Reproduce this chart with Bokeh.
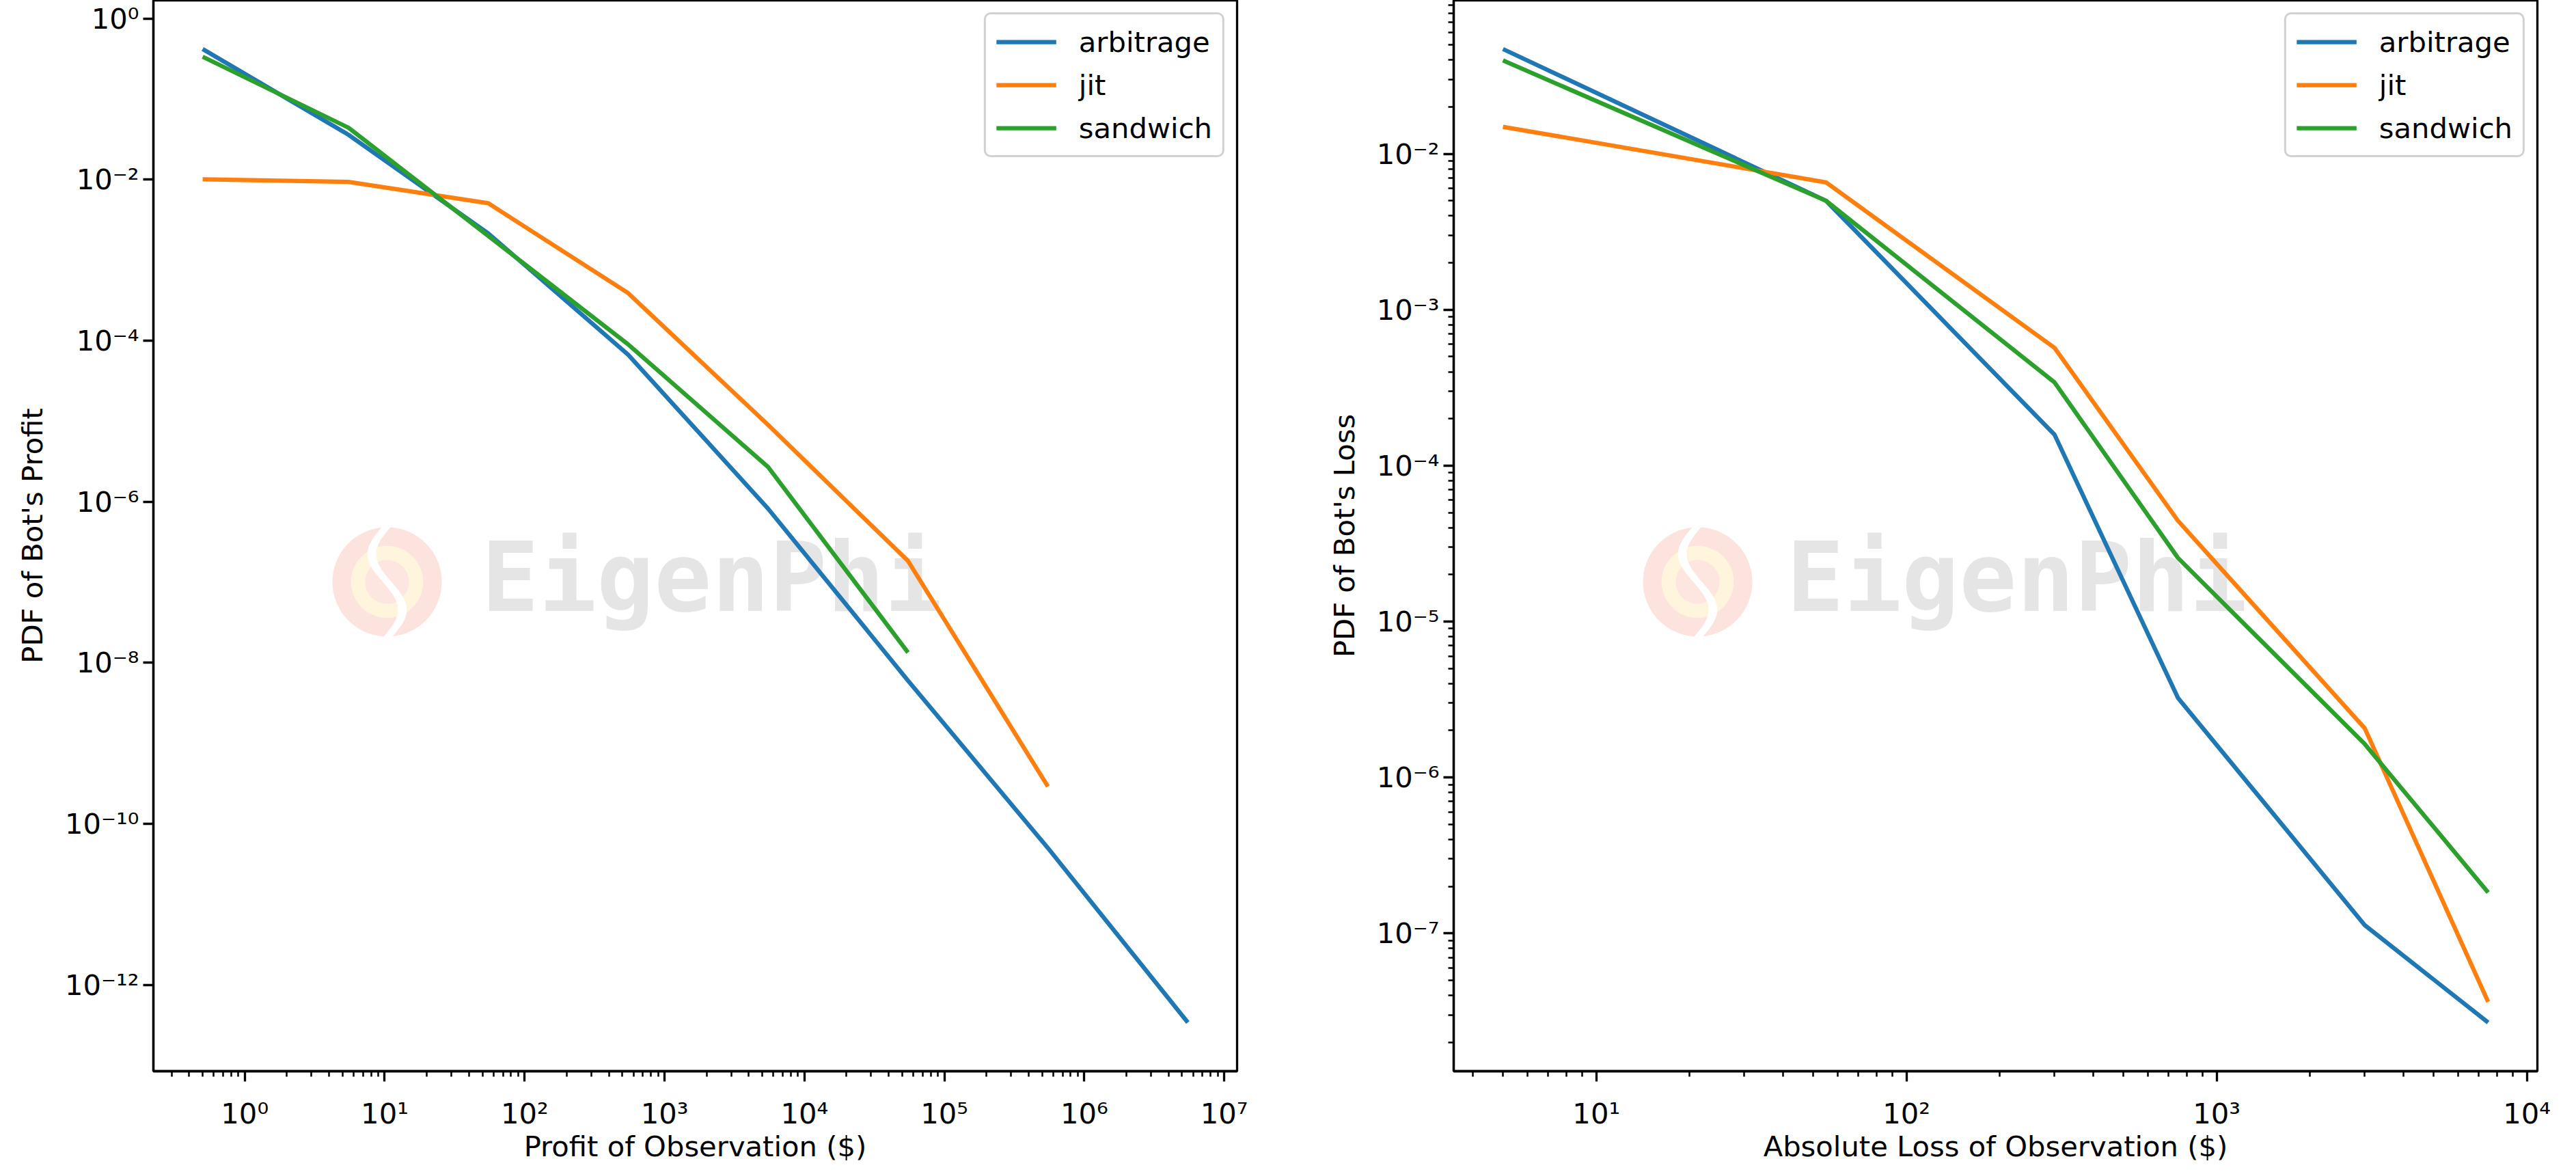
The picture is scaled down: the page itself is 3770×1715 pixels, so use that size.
import math
from bokeh.plotting import figure
from bokeh.models import Range1d, FixedTicker, Legend, LegendItem, Label, PolyAnnotation
from bokeh.layouts import row
from bokeh.embed import file_html
from bokeh.resources import INLINE

# ---------------- data ----------------
series_names = ["arbitrage", "jit", "sandwich"]
series_colors = ["#1f77b4", "#ff7f0e", "#2ca02c"]

# profit distribution (bin midpoints, $)
profit_x = [0.5, 5.5, 55, 550, 5500, 55000, 550000, 5500000]
profit_arbitrage = [0.42, 0.0362, 0.00215, 6.7e-5, 8.2e-7, 6.0e-9, 5.0e-11, 3.4e-13]
profit_jit = [0.0101, 0.0094, 0.0051, 3.9e-4, 9.0e-6, 1.84e-7, 2.9e-10]
profit_sandwich = [0.337, 0.0443, 0.0020, 9.0e-5, 2.7e-6, 1.34e-8]

# absolute loss distribution (bin midpoints, $)
loss_x = [5, 55, 300, 750, 3000, 7500]
loss_arbitrage = [0.047, 0.0050, 1.58e-4, 3.24e-6, 1.13e-7, 2.68e-8]
loss_jit = [0.0149, 0.00656, 5.7e-4, 4.43e-5, 2.07e-6, 3.64e-8]
loss_sandwich = [0.0397, 0.0050, 3.42e-4, 2.56e-5, 1.64e-6, 1.83e-7]

# tick positions / labels
profit_x_ticks = [1, 10, 100, 1e3, 1e4, 1e5, 1e6, 1e7]
profit_x_labels = ["10⁰", "10¹", "10²", "10³", "10⁴", "10⁵", "10⁶", "10⁷"]
profit_y_ticks = [1e-12, 1e-10, 1e-8, 1e-6, 1e-4, 1e-2, 1]
profit_y_labels = ["10⁻¹²", "10⁻¹⁰", "10⁻⁸", "10⁻⁶", "10⁻⁴", "10⁻²", "10⁰"]
loss_x_ticks = [10, 100, 1e3, 1e4]
loss_x_labels = ["10¹", "10²", "10³", "10⁴"]
loss_y_ticks = [1e-7, 1e-6, 1e-5, 1e-4, 1e-3, 1e-2]
loss_y_labels = ["10⁻⁷", "10⁻⁶", "10⁻⁵", "10⁻⁴", "10⁻³", "10⁻²"]

profit_xlabel = "Profit of Observation ($)"
profit_ylabel = "PDF of Bot's Profit"
loss_xlabel = "Absolute Loss of Observation ($)"
loss_ylabel = "PDF of Bot's Loss"
watermark_text = "EigenPhi"

FONT = "DejaVu Sans"
FS = "41.7px"


def padded_range(seqs):
    vals = [math.log10(v) for s in seqs for v in s]
    lo, hi = min(vals), max(vals)
    pad = 0.05 * (hi - lo)
    return Range1d(10 ** (lo - pad), 10 ** (hi + pad))


def minor_list(rng, kmin, kmax):
    out = []
    for k in range(kmin, kmax):
        for m in range(2, 10):
            v = m * 10.0 ** k
            if rng.start <= v <= rng.end:
                out.append(v)
    return out


def add_watermark(p, logo_cx, logo_cy, text_x, text_y):
    R = 80.0
    rings = [(1.0, "#fde3de"), (0.66, "#fff4dc"), (0.40, "#fde6e0")]
    for frac, col in rings:
        r = R * frac
        xs = [logo_cx + r * math.cos(2 * math.pi * i / 72) for i in range(72)]
        ys = [logo_cy + r * math.sin(2 * math.pi * i / 72) for i in range(72)]
        p.add_layout(PolyAnnotation(xs=xs, ys=ys, xs_units="screen", ys_units="screen",
                                    fill_color=col, fill_alpha=1.0, line_color=None,
                                    level="underlay"))
    # white S-shaped band through the logo
    n = 40
    w = 0.16 * R
    left, right = [], []
    for i in range(n + 1):
        t = -1 + 2 * i / n
        cx = logo_cx - 0.28 * R * math.sin(math.pi * t)
        cy = logo_cy + R * 1.02 * t
        left.append((cx - w / 2, cy))
        right.append((cx + w / 2, cy))
    pts = left + right[::-1]
    p.add_layout(PolyAnnotation(xs=[a for a, _ in pts], ys=[b for _, b in pts],
                                xs_units="screen", ys_units="screen",
                                fill_color="white", fill_alpha=1.0, line_color=None,
                                level="underlay"))
    p.add_layout(Label(x=text_x, y=text_y, x_units="screen", y_units="screen",
                       text=watermark_text, text_font="DejaVu Sans Mono",
                       text_font_style="bold", text_font_size="140px",
                       text_color="#e5e5e5", text_baseline="alphabetic",
                       text_align="left", level="underlay"))


def make_panel(xv, ys, xticks, xlabels, yticks, ylabels, xlabel, ylabel,
               border_left, border_right, y_minor, wm):
    xr = padded_range([xv])
    yr = padded_range(ys)
    p = figure(x_axis_type="log", y_axis_type="log", x_range=xr, y_range=yr,
               frame_width=1586, frame_height=1567,
               min_border_left=border_left, min_border_right=border_right,
               min_border_top=0, min_border_bottom=131,
               output_backend="svg", toolbar_location=None, title=None,
               background_fill_color="white", border_fill_color="white")
    p.xgrid.visible = False
    p.ygrid.visible = False
    p.outline_line_color = "black"
    p.outline_line_width = 3.3
    p.outline_line_alpha = 1.0

    add_watermark(p, *wm)

    renderers = []
    for yvals, col in zip(ys, series_colors):
        r = p.line(xv[:len(yvals)], yvals, line_color=col, line_width=6.25)
        renderers.append(r)

    xt = [t for t in xticks if xr.start <= t <= xr.end]
    p.xaxis.ticker = FixedTicker(ticks=xt, minor_ticks=minor_list(xr, -2, 9))
    p.xaxis.major_label_overrides = {t: l for t, l in zip(xticks, xlabels) if t in xt}
    yt = [t for t in yticks if yr.start <= t <= yr.end]
    p.yaxis.ticker = FixedTicker(ticks=yt, minor_ticks=minor_list(yr, -14, 2) if y_minor else [])
    p.yaxis.major_label_overrides = {t: l for t, l in zip(yticks, ylabels) if t in yt}

    p.xaxis.axis_label = xlabel
    p.yaxis.axis_label = ylabel
    for ax in (p.xaxis[0], p.yaxis[0]):
        ax.axis_line_width = 3.3
        ax.axis_line_color = "black"
        ax.major_tick_line_width = 3.3
        ax.minor_tick_line_width = 2.5
        ax.major_tick_line_color = "black"
        ax.minor_tick_line_color = "black"
        ax.major_tick_in = 0
        ax.major_tick_out = 15
        ax.minor_tick_in = 0
        ax.minor_tick_out = 8
        ax.major_label_text_font = FONT
        ax.major_label_text_font_size = FS
        ax.major_label_text_color = "black"
        ax.axis_label_text_font = FONT
        ax.axis_label_text_font_size = FS
        ax.axis_label_text_font_style = "normal"
        ax.axis_label_text_color = "black"
    p.xaxis.major_label_standoff = 22
    p.xaxis.axis_label_standoff = -4
    p.yaxis.major_label_standoff = 6
    p.yaxis.axis_label_standoff = 20
    if not y_minor:
        p.yaxis.minor_tick_line_color = None

    legend = Legend(items=[LegendItem(label=n, renderers=[r]) for n, r in zip(series_names, renderers)],
                    location="top_right")
    legend.label_text_font = FONT
    legend.label_text_font_size = FS
    legend.label_text_color = "black"
    legend.glyph_width = 88
    legend.glyph_height = 50
    legend.label_height = 50
    legend.label_standoff = 33
    legend.spacing = 13
    legend.padding = 15
    legend.margin = 18
    legend.border_line_color = "#cccccc"
    legend.border_line_width = 3.3
    legend.border_line_alpha = 0.9
    legend.background_fill_color = "white"
    legend.background_fill_alpha = 0.8
    if "border_radius" in Legend.properties():
        legend.border_radius = 10
    p.add_layout(legend)
    return p


p1 = make_panel(profit_x, [profit_arbitrage, profit_jit, profit_sandwich],
                profit_x_ticks, profit_x_labels, profit_y_ticks, profit_y_labels,
                profit_xlabel, profit_ylabel, 224, 67, False,
                (342, 716, 480, 722))
p2 = make_panel(loss_x, [loss_arbitrage, loss_jit, loss_sandwich],
                loss_x_ticks, loss_x_labels, loss_y_ticks, loss_y_labels,
                loss_xlabel, loss_ylabel, 250, 37, True,
                (357, 716, 487, 722))

layout = row(p1, p2)
open("out.html", "w").write(file_html(layout, INLINE))
